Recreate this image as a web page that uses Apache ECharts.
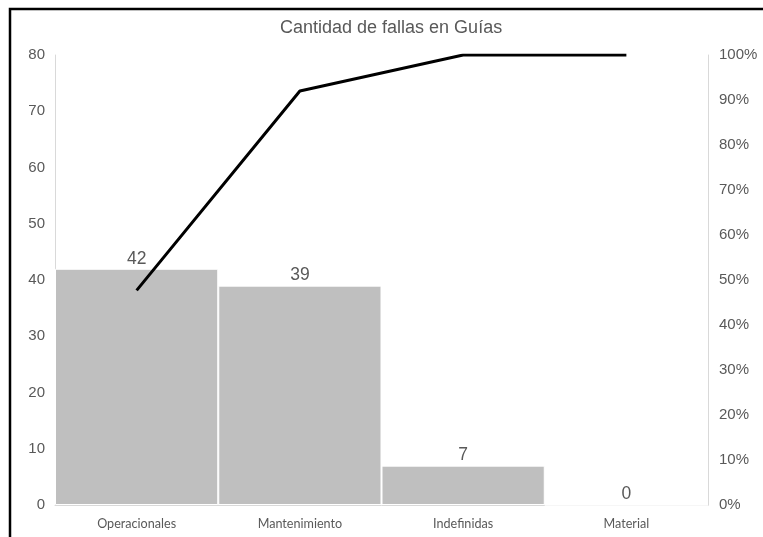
<!DOCTYPE html>
<html>
<head>
<meta charset="utf-8">
<script src="https://cdn.jsdelivr.net/npm/echarts@6/dist/echarts.min.js"></script>
<style>
  html, body { margin: 0; padding: 0; background: #fff; }
  #chart { width: 763px; height: 537px; }
</style>
</head>
<body>
<div id="chart"></div>
<script>
// Failure counts per category, with cumulative share for the Pareto line
const categories = ['Operacionales', 'Mantenimiento', 'Indefinidas', 'Material'];
const fallas = [42, 39, 7, 0];
const acumulado = [0.477, 0.920, 1.0, 1.0];
const pctTicks = ['0%', '10%', '20%', '30%', '40%', '50%', '60%', '70%', '80%', '90%', '100%'];

const chart = echarts.init(document.getElementById('chart'), null, { renderer: 'canvas' });
const gray = '#595959';
const axisLine = { show: true, lineStyle: { color: '#d9d9d9', width: 1 } };

chart.setOption({
  animation: false,
  title: {
    text: 'Cantidad de fallas en Guías',
    left: 275,
    top: 14,
    textStyle: { fontFamily: 'Liberation Sans', fontSize: 18, fontWeight: 'normal', color: gray }
  },
  graphic: [{
    type: 'rect',
    shape: { x: 10, y: 9, width: 800, height: 600 },
    style: { fill: 'none', stroke: '#000', lineWidth: 2.5 },
    silent: true
  }],
  grid: { left: 55, right: 55, top: 55, bottom: 32 },
  xAxis: {
    type: 'category',
    data: categories,
    axisLine: axisLine,
    axisTick: { show: false },
    axisLabel: { fontFamily: 'Lato', fontSize: 12.6, color: gray, margin: 12 }
  },
  yAxis: [{
    type: 'value',
    min: 0, max: 80, interval: 10,
    axisLine: axisLine,
    axisTick: { show: false },
    splitLine: { show: false },
    axisLabel: { fontFamily: 'Liberation Sans', fontSize: 15, color: gray, margin: 10 }
  }, {
    type: 'value',
    min: 0, max: 1, interval: 0.1,
    position: 'right',
    axisLine: axisLine,
    axisTick: { show: false },
    splitLine: { show: false },
    axisLabel: {
      fontFamily: 'Liberation Sans', fontSize: 15, color: gray, margin: 11,
      formatter: v => pctTicks[Math.round(v * 10)]
    }
  }],
  series: [{
    type: 'bar',
    data: fallas,
    barWidth: '100%',
    barCategoryGap: 0,
    itemStyle: { color: '#bfbfbf', borderColor: '#fff', borderWidth: 1 },
    label: {
      show: true, position: 'top', distance: 1,
      fontFamily: 'Liberation Sans', fontSize: 17.5, color: gray
    }
  }, {
    type: 'line',
    yAxisIndex: 1,
    data: acumulado,
    symbol: 'none',
    lineStyle: { color: '#000', width: 3 }
  }]
});
</script>
</body>
</html>
